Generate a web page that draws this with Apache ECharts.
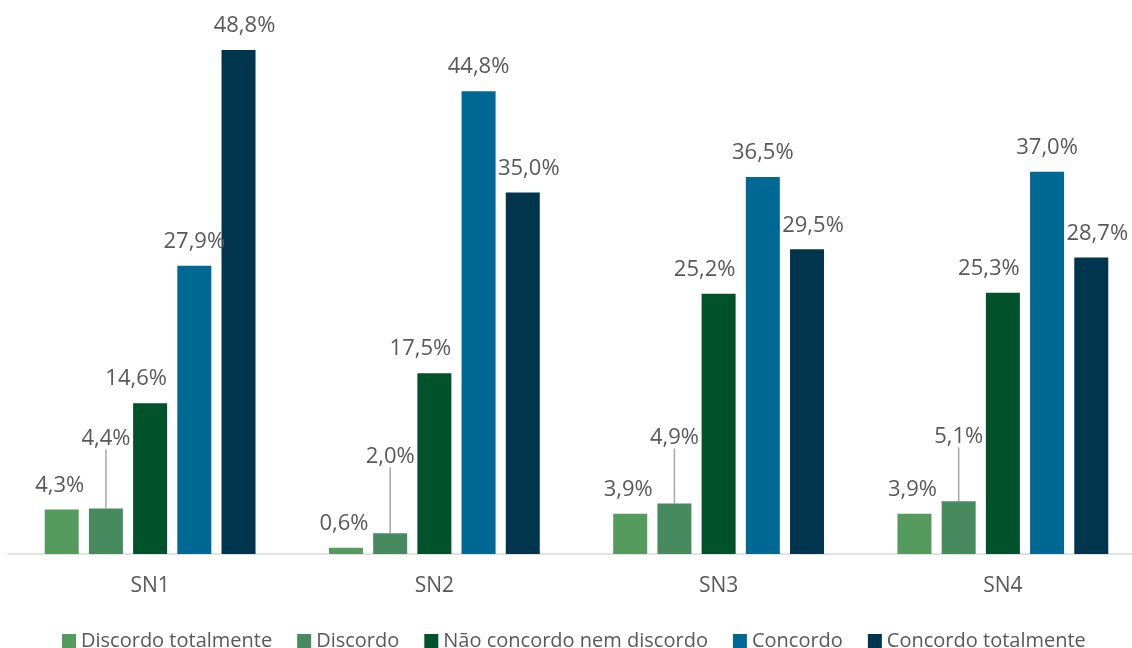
<!DOCTYPE html>
<html><head><meta charset="utf-8">
<script src="https://cdn.jsdelivr.net/npm/echarts@6/dist/echarts.min.js"></script>
<style>html,body{margin:0;padding:0;background:#fff;overflow:hidden}#c{width:1150px;height:648px}</style>
</head><body><div id="c"></div>
<script>
const categories = ['SN1', 'SN2', 'SN3', 'SN4'];
const seriesNames = ['Discordo totalmente', 'Discordo', 'Não concordo nem discordo', 'Concordo', 'Concordo totalmente'];
const discordoTotalmente = [4.3, 0.6, 3.9, 3.9];
const discordo = [4.4, 2.0, 4.9, 5.1];
const naoConcordo = [14.6, 17.5, 25.2, 25.3];
const concordo = [27.9, 44.8, 36.5, 37.0];
const concordoTotalmente = [48.8, 35.0, 29.5, 28.7];

const colors = ['#559B5E', '#468A5D', '#00522B', '#006894', '#00364D'];
const values = [discordoTotalmente, discordo, naoConcordo, concordo, concordoTotalmente];
const labelDx = [-2, 0, -14, 0, 6];
const discordoDy = [-46, -53, -42, -41];
const font = '"Open Sans", sans-serif';

const chart = echarts.init(document.getElementById('c'));
chart.setOption({
  animation: false,
  textStyle: { fontFamily: font },
  grid: { left: 8, right: 5, top: 37.5, bottom: 94, containLabel: false },
  legend: {
    top: 626, left: 57, itemWidth: 14, itemHeight: 14, itemGap: 25,
    icon: 'rect',
    textStyle: { color: '#595959', fontSize: 20, fontFamily: font },
    data: seriesNames
  },
  xAxis: {
    type: 'category', data: categories,
    axisLine: { show: true, lineStyle: { color: '#d9d9d9', width: 1.5 } },
    axisTick: { show: false },
    axisLabel: { color: '#595959', fontSize: 21, margin: 22, fontFamily: font }
  },
  yAxis: { type: 'value', min: 0, max: 50, show: false, splitLine: { show: false } },
  series: seriesNames.map((name, i) => ({
    name, type: 'bar', data: values[i],
    barWidth: 34, barGap: '30%',
    itemStyle: { color: colors[i] },
    label: {
      show: true, position: 'top', distance: 13, offset: [labelDx[i], 0],
      color: '#595959', fontSize: 22, fontFamily: font,
      formatter: p => p.value.toFixed(1).replace('.', ',') + '%'
    },
    labelLine: i === 1 ? { show: true, lineStyle: { color: '#a6a6a6', width: 1.5 } } : undefined,
    labelLayout: i === 1 ? (p => ({ dy: discordoDy[p.dataIndex] })) : undefined
  }))
});
</script></body></html>
